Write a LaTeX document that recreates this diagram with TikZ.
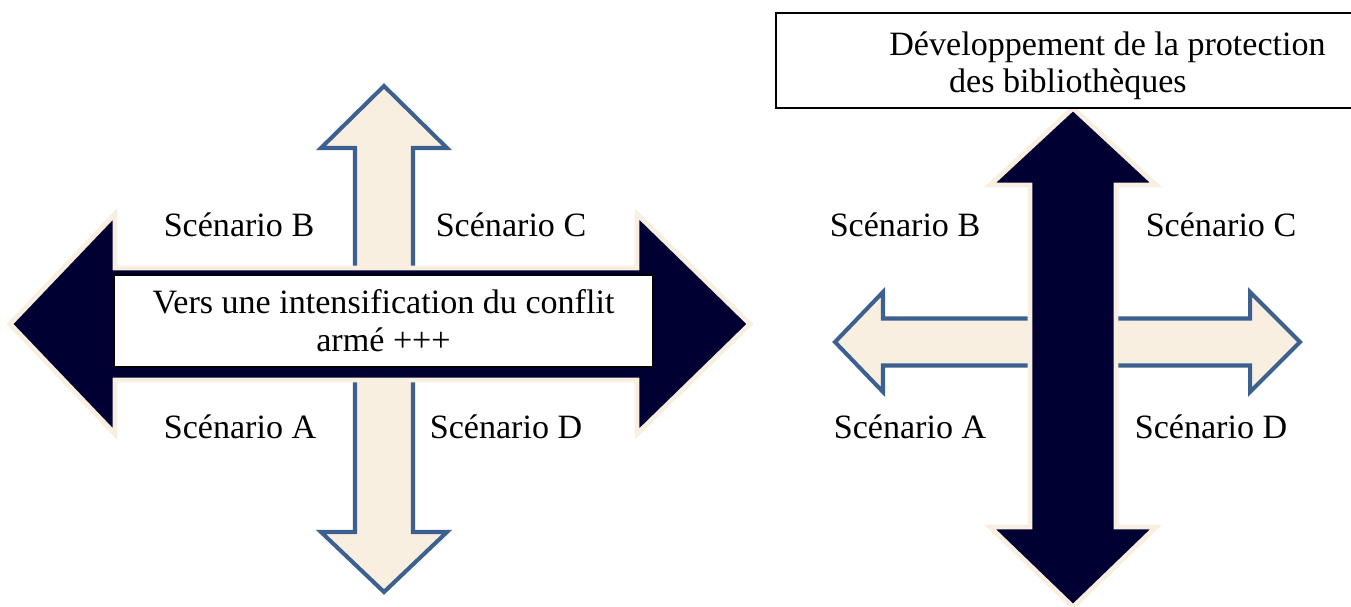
\documentclass[tikz,border=0pt]{standalone}
\usepackage{fontspec}
\setmainfont{Liberation Serif}
\usepackage{tikz}
\usepackage{xcolor}

\definecolor{navy}{RGB}{0,0,51}
\definecolor{cream}{RGB}{249,239,225}
\definecolor{steel}{RGB}{60,96,144}

\begin{document}
\begin{tikzpicture}[
        x=0.02cm, y=-0.02cm,
        darkarrow/.style={fill=navy, draw=cream, line width=2.8pt, line join=miter},
        lightarrow/.style={fill=cream, draw=steel, line width=2.3pt, line join=miter},
        lbl/.style={font=\fontsize{19.4}{21.5}\selectfont},
        textbox/.style={draw=black, fill=white, line width=0.8pt}
    ]
        \useasboundingbox (0,0) rectangle (1351,607);

        % first cross: light vertical arrow under the dark horizontal one
        \draw[lightarrow] (384,86) -- (447,148) -- (413,148) -- (413,532) -- (447,532) -- (384,592)
            -- (321,532) -- (355,532) -- (355,148) -- (321,148) -- cycle;
        \draw[darkarrow] (10,324) -- (115,214) -- (115,268) -- (637,268) -- (637,214) -- (750,324)
            -- (637,434) -- (637,380) -- (115,380) -- (115,434) -- cycle;

        \node[textbox, lbl, align=center, minimum width=10.78cm, minimum height=1.84cm] (conflit) at (383.5,321)
            {Vers une intensification du conflit\\armé +++};

        \node[lbl] (scenB1) at (239,225) {Scénario B};
        \node[lbl] (scenC1) at (511,225) {Scénario C};
        \node[lbl] (scenA1) at (240,427) {Scénario A};
        \node[lbl] (scenD1) at (506,427) {Scénario D};

        % second cross: light horizontal arrow under the dark vertical one
        \draw[lightarrow] (835,342) -- (883,292) -- (883,318.5) -- (1250,318.5) -- (1250,292) -- (1300,342)
            -- (1250,392) -- (1250,365.5) -- (883,365.5) -- (883,392) -- cycle;
        \draw[darkarrow] (1073,108) -- (1156,185) -- (1116,185) -- (1116,527) -- (1156,527) -- (1073,607)
            -- (990,527) -- (1030,527) -- (1030,185) -- (990,185) -- cycle;

        \draw[textbox] (776,13) rectangle (1362,108);
        \node[lbl, align=left, anchor=north west, inner sep=0pt] (protection) at (889,31)
            {Développement de la protection\\\hspace*{34pt}des bibliothèques};

        \node[lbl] (scenB2) at (905,225) {Scénario B};
        \node[lbl] (scenC2) at (1221,225) {Scénario C};
        \node[lbl] (scenA2) at (910,427) {Scénario A};
        \node[lbl] (scenD2) at (1211,427) {Scénario D};
    \end{tikzpicture}
\end{document}
